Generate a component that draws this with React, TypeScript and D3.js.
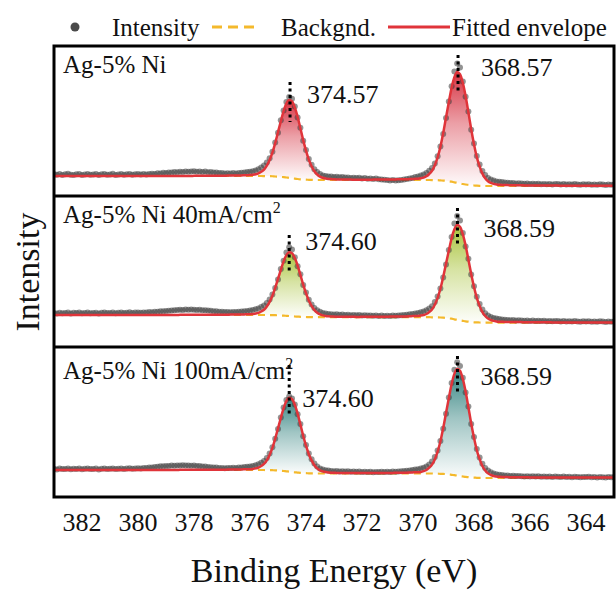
import React from "react";
import * as d3 from "d3";

// ---------------- DATA ----------------
// Binding-energy grid of the spectra (383.0 eV -> 363.0 eV, 0.1 eV step)
const energies: number[] = d3.range(0, 201).map((i) => Math.round((383 - i * 0.1) * 10) / 10);

const xTicks = [382, 380, 378, 376, 374, 372, 370, 368, 366, 364];

const sampleNames = ["Ag-5% Ni", "Ag-5% Ni 40mA/cm", "Ag-5% Ni 100mA/cm"];
const sampleSuperscripts = ["", "2", "2"];

const peakEnergies = [
  [374.57, 368.57],
  [374.6, 368.59],
  [374.6, 368.59],
];
const peakLabels = [
  ["374.57", "368.57"],
  ["374.60", "368.59"],
  ["374.60", "368.59"],
];
// vertical dotted marker extent (intensity units)
const markerTop = [
  [114, 141],
  [112, 139],
  [132, 141],
];
const markerBottom = [
  [74, 103],
  [75, 100],
  [80, 102],
];
const labelLevel = [
  [93, 120],
  [97, 110],
  [90, 112],
];

// Measured intensity (a.u.)
const dots1 = [
  21.9,21.2,22.1,21.0,21.7,22.2,21.3,20.9,21.8,22.0,
  21.1,21.6,22.1,21.2,21.4,21.9,20.9,21.7,22.0,21.3,
  21.5,22.2,21.0,21.6,21.9,21.3,21.8,22.1,21.2,21.7,
  21.9,21.4,22.0,21.6,22.1,22.3,22.1,22.8,22.6,23.2,
  23.0,23.6,23.4,24.0,23.8,24.3,24.1,24.6,24.2,24.5,
  24.7,24.3,24.6,24.1,24.4,23.8,24.0,23.5,23.6,23.0,
  23.1,22.6,22.8,22.4,22.9,22.6,23.0,23.2,23.5,23.9,
  24.3,24.8,25.6,26.8,28.4,30.6,33.5,37.8,44.2,53.4,
  63.2,75.8,85.5,94.0,99.0,97.2,89.6,78.4,68.3,55.2,
  45.9,37.1,31.2,26.8,23.9,21.9,20.6,20.1,19.5,19.4,
  19.0,19.3,18.7,18.9,18.4,18.6,18.1,18.3,17.9,18.2,
  17.6,17.9,17.3,17.6,17.1,17.4,16.8,16.5,16.2,15.9,
  15.6,15.9,15.5,15.8,16.1,16.4,16.9,17.6,18.1,18.9,
  19.6,20.4,21.5,23.0,25.3,28.0,32.6,39.8,49.6,62.1,
  77.9,94.6,109.8,124.5,132.6,128.4,114.6,99.2,84.5,66.2,
  52.6,40.1,31.4,25.0,20.9,18.1,16.4,15.5,14.6,14.2,
  13.9,13.5,13.3,13.0,12.9,12.6,12.7,12.4,12.2,12.4,
  12.0,12.3,11.9,12.2,11.8,12.1,11.7,12.0,11.6,12.1,
  11.9,11.6,12.0,11.5,11.8,11.4,11.9,11.6,11.3,11.7,
  11.5,11.8,11.3,11.6,11.2,11.7,11.4,11.1,11.6,11.3,
  11.5,
];
const fit1 = [
  20,20,20,20,20,20,20,20,20,20,
  20,20,20,20,20,20,20,20,20,20,
  20,20,20,20,20,20,20,20,20,20,
  20,20,20,20,20,20,20,20,20,20,
  20,20,20,20,20,20,20,20,20,20,
  20.2,20.2,20.2,20.2,20.2,20.2,20.2,20.2,20.2,20.2,
  20.3,20.3,20.4,20.4,20.5,20.5,20.5,20.6,20.7,20.8,
  20.9,21.2,21.7,22.6,24.2,26.4,30.3,35.9,43.3,52.9,
  63.9,74.6,85.0,92.4,95.9,94.5,88.5,79.2,67.7,55.9,
  45.3,36.3,29.8,24.7,21.5,19.4,18.2,17.5,17.1,16.9,
  16.7,16.6,16.6,16.5,16.5,16.4,16.4,16.3,16.3,16.3,
  16.3,16.3,16.3,16.3,16.4,16.4,16.4,16.4,16.5,16.5,
  16.5,16.6,16.6,16.7,16.7,16.7,16.8,16.9,17.0,17.2,
  17.3,17.7,18.4,19.7,22.0,25.2,30.7,38.7,49.1,62.9,
  78.5,93.8,108.3,118.8,123.9,121.8,113.2,100.0,83.7,66.8,
  51.8,38.9,29.6,22.4,17.8,14.8,13.1,12.1,11.6,11.2,
  11.0,10.9,10.9,10.8,10.8,10.7,10.7,10.7,10.6,10.6,
  10.6,10.5,10.5,10.5,10.5,10.5,10.4,10.4,10.4,10.4,
  10.4,10.3,10.3,10.3,10.3,10.3,10.3,10.2,10.2,10.2,
  10.2,10.2,10.2,10.2,10.2,10.2,10.2,10.2,10.2,10.2,
  10.2,
];
const bg1 = [
  20,20,20,20,20,20,20,20,20,20,
  20,20,20,20,20,20,20,20,20,20,
  20,20,20,20,20,20,20,20,20,20,
  20,20,20,20,20,20,20,20,20,20,
  20,20,20,20,20,20,20,20,20,20,
  20,20,20,20,20,20,20,20,20,20,
  20,20,20,20,20,20,20,20,20,20,
  20,20,20,20,20,19.95,19.9,19.85,19.75,19.5,
  19.4,19.1,18.9,18.5,18.1,17.7,17.4,17.0,16.7,16.5,
  16.3,16.2,16.1,16,16,16,16,16,16,16,
  16,16,16,16,16,16,16,16,16,16,
  16,16,16,16,16,16,16,16,16,16,
  16,16,16,16,16,16,16,16,16,16,
  16,16,16,16,16,15.97,15.9,15.8,15.6,15.4,
  15.2,14.8,14.3,13.7,13.2,12.6,12.0,11.5,11.1,10.7,
  10.5,10.3,10.15,10.1,10,10,10,10,10,10,
  10,10,10,10,10,10,10,10,10,10,
  10,10,10,10,10,10,10,10,10,10,
  10,10,10,10,10,10,10,10,10,10,
  10,10,10,10,10,10,10,10,10,10,
  10,
];

const dots2 = [
  34.1,33.5,34.3,33.8,34.0,34.5,33.6,34.2,33.9,34.4,
  33.7,34.1,34.6,33.8,34.0,34.3,33.5,34.2,34.4,33.9,
  34.1,34.6,33.8,34.2,34.5,34.0,34.3,34.7,34.1,34.4,
  34.4,34.2,34.6,34.5,34.9,34.8,35.2,35.3,35.7,35.8,
  36.1,36.3,36.5,36.8,36.9,37.2,37.1,37.4,37.2,37.5,
  37.3,37.1,37.2,36.8,36.7,36.4,36.2,35.8,35.7,35.3,
  35.2,34.9,34.9,34.8,35.0,34.9,35.2,35.4,35.7,36.1,
  36.6,37.0,37.8,38.6,39.9,41.5,43.9,47.6,52.4,59.0,
  67.5,77.9,86.3,94.5,99.8,97.6,89.7,80.8,72.8,61.9,
  54.5,47.3,42.6,39.0,36.8,35.2,34.1,33.6,33.0,32.8,
  32.5,32.7,32.2,32.4,32.0,32.3,31.8,32.1,31.7,31.9,
  31.5,31.8,31.4,31.6,31.2,31.5,31.1,31.4,31.0,31.3,
  31.1,31.4,31.2,31.5,31.8,32.0,32.3,32.7,33.1,33.6,
  34.1,34.7,35.6,36.7,38.4,40.8,44.9,50.5,58.6,69.4,
  82.6,97.0,110.1,123.4,131.0,126.5,113.9,100.6,88.2,72.4,
  60.8,50.3,42.9,37.4,33.8,31.5,30.1,29.0,28.4,27.9,
  27.6,27.2,27.0,26.8,26.9,26.5,26.7,26.4,26.2,26.5,
  26.1,26.4,26.0,26.3,25.9,26.2,25.8,26.1,25.7,26.0,
  25.9,25.6,26.0,25.5,25.8,25.4,25.9,25.6,25.3,25.7,
  25.5,25.8,25.3,25.6,25.2,25.7,25.4,25.1,25.6,25.3,
  25.5,
];
const fit2 = [
  32,32,32,32,32,32,32,32,32,32,
  32,32,32,32,32,32,32,32,32,32,
  32,32,32,32,32,32,32,32,32,32,
  32,32,32,32,32,32,32,32,32,32,
  32,32,32,32,32,32.2,32.2,32.2,32.2,32.2,
  32.2,32.2,32.2,32.2,32.2,32.2,32.2,32.2,32.2,32.2,
  32.3,32.3,32.3,32.4,32.4,32.5,32.5,32.5,32.6,32.7,
  32.7,33.0,33.4,34.1,35.5,37.3,40.5,45.1,51.2,59.2,
  68.2,77.1,85.6,91.8,94.8,93.7,88.9,81.4,72.1,62.4,
  53.8,46.4,41.1,36.9,34.3,32.6,31.6,31.0,30.7,30.5,
  30.4,30.3,30.3,30.3,30.2,30.2,30.2,30.2,30.1,30.1,
  30.2,30.2,30.2,30.2,30.2,30.2,30.2,30.2,30.2,30.2,
  30.4,30.4,30.5,30.5,30.5,30.6,30.6,30.8,30.9,31.0,
  31.1,31.4,32.0,33.0,34.9,37.6,42.3,49.2,58.2,70.0,
  83.2,96.2,108.8,117.7,121.9,120.2,112.8,101.4,87.4,73.0,
  60.0,49.1,41.1,34.9,31.0,28.4,27.0,26.1,25.6,25.3,
  25.2,25.1,25.1,25.0,25.0,24.9,24.9,24.9,24.8,24.8,
  24.8,24.8,24.7,24.7,24.7,24.7,24.7,24.7,24.6,24.6,
  24.6,24.6,24.6,24.6,24.6,24.6,24.6,24.6,24.6,24.6,
  24.5,24.5,24.5,24.5,24.5,24.5,24.5,24.5,24.5,24.5,
  24.5,
];
const bg2 = [
  32,32,32,32,32,32,32,32,32,32,
  32,32,32,32,32,32,32,32,32,32,
  32,32,32,32,32,32,32,32,32,32,
  32,32,32,32,32,32,32,32,32,32,
  32,32,32,32,32,32,32,32,32,32,
  32,32,32,32,32,32,32,32,32,32,
  32,32,32,32,32,32,32,32,32,32,
  32,32,32,32,32,32,32,31.9,31.9,31.8,
  31.7,31.5,31.4,31.2,31.0,30.7,30.5,30.4,30.2,30.1,
  30.0,29.9,29.9,29.8,29.8,29.8,29.8,29.8,29.8,29.8,
  29.8,29.8,29.8,29.8,29.8,29.8,29.8,29.8,29.8,29.8,
  29.8,29.8,29.8,29.8,29.8,29.8,29.8,29.8,29.8,29.8,
  29.8,29.8,29.8,29.8,29.8,29.8,29.8,29.8,29.8,29.8,
  29.8,29.8,29.8,29.8,29.8,29.7,29.7,29.6,29.5,29.3,
  29.0,28.6,28.3,27.7,27.2,26.7,26.2,25.7,25.3,25.0,
  24.7,24.6,24.5,24.4,24.3,24.3,24.3,24.3,24.3,24.3,
  24.3,24.3,24.3,24.3,24.3,24.3,24.3,24.3,24.3,24.3,
  24.3,24.3,24.3,24.3,24.3,24.3,24.3,24.3,24.3,24.3,
  24.3,24.3,24.3,24.3,24.3,24.3,24.3,24.3,24.3,24.3,
  24.3,24.3,24.3,24.3,24.3,24.3,24.3,24.3,24.3,24.3,
  24.3,
];

const dots3 = [
  28.2,27.6,28.4,27.9,28.1,28.5,27.7,28.3,28.0,28.4,
  27.8,28.2,28.6,27.9,28.1,28.4,27.6,28.3,28.5,28.0,
  28.2,28.6,27.9,28.3,28.5,28.1,28.4,28.8,28.2,28.6,
  28.8,28.5,29.1,29.0,29.5,29.6,30.1,30.2,30.7,30.8,
  31.1,31.0,31.4,31.3,31.6,31.4,31.7,31.5,31.6,31.3,
  31.4,31.1,31.0,30.6,30.4,30.0,29.8,29.5,29.4,29.1,
  29.0,28.8,29.0,28.9,29.2,29.1,29.4,29.6,29.9,30.2,
  30.5,31.0,31.8,32.7,34.3,36.0,39.1,43.5,49.8,58.2,
  68.1,79.6,89.4,97.0,100.6,98.5,92.6,82.7,73.1,60.8,
  51.9,43.6,37.8,33.4,30.6,28.6,27.5,26.8,26.4,26.0,
  25.8,26.0,25.6,25.8,25.4,25.7,25.3,25.5,25.2,25.4,
  25.0,25.3,24.9,25.2,24.8,25.1,24.9,25.2,25.0,25.3,
  25.1,25.4,25.3,25.6,25.8,26.0,26.3,26.6,27.0,27.4,
  27.8,28.4,29.3,30.5,32.6,35.4,39.9,46.5,55.9,68.3,
  83.2,99.5,114.0,127.2,134.8,130.9,119.3,104.6,90.4,72.9,
  59.9,47.9,39.4,33.2,29.1,26.4,24.7,23.5,22.8,22.3,
  21.9,21.6,21.4,21.1,21.2,20.9,21.0,20.7,20.6,20.8,
  20.5,20.8,20.4,20.7,20.3,20.6,20.2,20.5,20.1,20.4,
  20.3,20.0,20.4,19.9,20.2,19.8,20.3,20.0,19.7,20.1,
  19.9,20.2,19.7,20.0,19.6,20.1,19.8,19.5,20.0,19.7,
  19.9,
];
const fit3 = [
  27,27,27,27,27,27,27,27,27,27,
  27,27,27,27,27,27,27,27,27,27,
  27,27,27,27,27,27,27,27,27,27,
  27,27,27,27,27,27,27,27,27,27,
  27,27,27,27,27,27.2,27.2,27.2,27.2,27.2,
  27.2,27.2,27.2,27.2,27.2,27.2,27.2,27.2,27.2,27.2,
  27.3,27.3,27.4,27.4,27.4,27.5,27.6,27.6,27.7,27.8,
  27.8,28.1,28.6,29.4,31.0,33.1,36.7,42.1,49.1,58.4,
  68.7,79.0,88.7,95.8,99.2,97.8,92.2,83.4,72.5,61.3,
  51.3,42.8,36.6,31.8,28.7,26.7,25.6,24.9,24.5,24.3,
  24.2,24.1,24.1,24.1,24.0,24.0,24.0,24.0,23.9,23.9,
  23.9,23.9,23.9,23.9,23.9,23.9,24.0,24.0,24.0,24.0,
  24.1,24.1,24.2,24.2,24.2,24.3,24.3,24.5,24.6,24.7,
  24.8,25.1,25.9,27.0,29.3,32.4,37.6,45.3,55.5,68.9,
  83.9,98.8,112.8,123.1,128.1,126.2,118.1,105.4,89.8,73.5,
  59.2,46.8,37.8,31.0,26.5,23.6,22.0,21.0,20.5,20.2,
  20.0,19.9,19.9,19.8,19.8,19.8,19.7,19.7,19.7,19.7,
  19.6,19.6,19.6,19.6,19.6,19.6,19.6,19.6,19.6,19.6,
  19.5,19.5,19.5,19.5,19.5,19.5,19.5,19.5,19.5,19.5,
  19.4,19.4,19.4,19.4,19.4,19.4,19.4,19.4,19.4,19.4,
  19.4,
];
const bg3 = [
  27,27,27,27,27,27,27,27,27,27,
  27,27,27,27,27,27,27,27,27,27,
  27,27,27,27,27,27,27,27,27,27,
  27,27,27,27,27,27,27,27,27,27,
  27,27,27,27,27,27,27,27,27,27,
  27,27,27,27,27,27,27,27,27,27,
  27,27,27,27,27,27,27,27,27,27,
  27,27,27,27,27,27,26.9,26.9,26.8,26.7,
  26.5,26.3,26.0,25.7,25.4,25.0,24.7,24.4,24.1,23.9,
  23.8,23.7,23.6,23.6,23.5,23.5,23.5,23.5,23.5,23.5,
  23.5,23.5,23.5,23.5,23.5,23.5,23.5,23.5,23.5,23.5,
  23.5,23.5,23.5,23.5,23.5,23.5,23.5,23.5,23.5,23.5,
  23.5,23.5,23.5,23.5,23.5,23.5,23.5,23.5,23.5,23.5,
  23.5,23.5,23.5,23.5,23.5,23.5,23.4,23.3,23.2,23.1,
  22.9,22.6,22.2,21.8,21.4,20.9,20.5,20.1,19.8,19.5,
  19.4,19.2,19.1,19.1,19.0,19.0,19.0,19.0,19.0,19.0,
  19,19,19,19,19,19,19,19,19,19,
  19,19,19,19,19,19,19,19,19,19,
  19,19,19,19,19,19,19,19,19,19,
  19,19,19,19,19,19,19,19,19,19,
  19,
];

// energy windows of the two Ag 3d components (fill regions)
const peakWindows: [number, number][] = [
  [376.3, 372.8],
  [370.3, 366.8],
];

// ---------------- STYLE / LAYOUT ----------------
const W = 616;
const H = 592;
const plotLeft = 54;
const plotRight = 614;
const panelTops = [46, 196, 347];
const panelBottoms = [196, 347, 497];
const fillColors = ["#d42a3a", "#a4c030", "#2a7d7a"];
const nameBaselines = [73, 223, 379];
const labelDx = [
  [17, 23],
  [16, 26],
  [13, 23],
];
const FONT = "'Liberation Serif', 'Times New Roman', Times, serif";

const panelData = [
  { dots: dots1, fit: fit1, bg: bg1 },
  { dots: dots2, fit: fit2, bg: bg2 },
  { dots: dots3, fit: fit3, bg: bg3 },
];

export default function App() {
  const x = d3.scaleLinear().domain([383, 363]).range([plotLeft, plotRight]);

  return (
    <div style={{ position: "absolute", left: 0, top: 0 }}>
      <svg width={W} height={H} fontFamily={FONT} style={{ display: "block", background: "#fff" }}>
        <defs>
          {fillColors.map((c, p) => (
            <linearGradient key={p} id={`grad${p}`} x1="0" y1="0" x2="0" y2="1">
              <stop offset="0" stopColor={c} stopOpacity={0.95} />
              <stop offset="0.45" stopColor={c} stopOpacity={0.45} />
              <stop offset="1" stopColor={c} stopOpacity={0.02} />
            </linearGradient>
          ))}
          {panelTops.map((t, p) => (
            <clipPath key={p} id={`clip${p}`}>
              <rect x={plotLeft} y={t} width={plotRight - plotLeft} height={panelBottoms[p] - t} />
            </clipPath>
          ))}
        </defs>

        {panelData.map((pd, p) => {
          const bottom = panelBottoms[p];
          const y = d3.scaleLinear().domain([0, 150]).range([bottom, bottom - 150]);
          const line = d3
            .line<number>()
            .x((_, i) => x(energies[i]))
            .y((d) => y(d))
            .curve(d3.curveMonotoneX);
          const area = d3
            .area<number>()
            .x((i) => x(energies[i]))
            .y0((i) => y(pd.bg[i]))
            .y1((i) => y(pd.fit[i]))
            .curve(d3.curveMonotoneX);
          return (
            <g key={p} clipPath={`url(#clip${p})`}>
              {peakWindows.map((w, k) => {
                const idx = energies.map((_, i) => i).filter((i) => energies[i] <= w[0] && energies[i] >= w[1]);
                return <path key={k} d={area(idx) || ""} fill={`url(#grad${p})`} />;
              })}
              <path d={line(pd.bg) || ""} fill="none" stroke="#f4b92c" strokeWidth={2.2} strokeDasharray="7,5" />
              {pd.dots.map((v, i) => (
                <circle key={i} cx={x(energies[i])} cy={y(v)} r={3} fill="#3b3b3b" fillOpacity={0.55} />
              ))}
              <path d={line(pd.fit) || ""} fill="none" stroke="#e0343a" strokeWidth={2.5} />
              {peakEnergies[p].map((e, k) => (
                <g key={k}>
                  <line
                    x1={x(e)}
                    x2={x(e)}
                    y1={y(markerTop[p][k])}
                    y2={y(markerBottom[p][k])}
                    stroke="#000"
                    strokeWidth={3}
                    strokeDasharray="3,3.5"
                  />
                  <text x={x(e) + labelDx[p][k]} y={y(labelLevel[p][k])} fontSize={26} fill="#111">
                    {peakLabels[p][k]}
                  </text>
                </g>
              ))}
              <text x={63} y={nameBaselines[p]} fontSize={25} fill="#111">
                {sampleNames[p]}
                {sampleSuperscripts[p] && (
                  <tspan dy={-10} fontSize={16}>
                    {sampleSuperscripts[p]}
                  </tspan>
                )}
              </text>
            </g>
          );
        })}

        {/* frame and dividers */}
        <rect
          x={plotLeft}
          y={panelTops[0]}
          width={plotRight - plotLeft}
          height={panelBottoms[2] - panelTops[0]}
          fill="none"
          stroke="#000"
          strokeWidth={3}
        />
        {[panelBottoms[0], panelBottoms[1]].map((yy, i) => (
          <line key={i} x1={plotLeft} x2={plotRight} y1={yy} y2={yy} stroke="#000" strokeWidth={3} />
        ))}

        {/* x tick labels */}
        {xTicks.map((t) => (
          <text key={t} x={x(t)} y={531} fontSize={26} textAnchor="middle" fill="#111">
            {t}
          </text>
        ))}
        <text x={334} y={582} fontSize={34} textAnchor="middle" fill="#111">
          Binding Energy (eV)
        </text>
        <text transform="translate(39,272) rotate(-90)" fontSize={34} textAnchor="middle" fill="#111">
          Intensity
        </text>

        {/* legend */}
        <circle cx={75} cy={27} r={4.5} fill="#4a4a4a" />
        <text x={112} y={36} fontSize={25} fill="#111">
          Intensity
        </text>
        <line x1={212} x2={256} y1={27} y2={27} stroke="#f4b92c" strokeWidth={3} strokeDasharray="10,6" />
        <text x={281} y={36} fontSize={25} fill="#111">
          Backgnd.
        </text>
        <line x1={388} x2={450} y1={27} y2={27} stroke="#e0343a" strokeWidth={3} />
        <text x={452} y={36} fontSize={25} fill="#111">
          Fitted envelope
        </text>
      </svg>
    </div>
  );
}
